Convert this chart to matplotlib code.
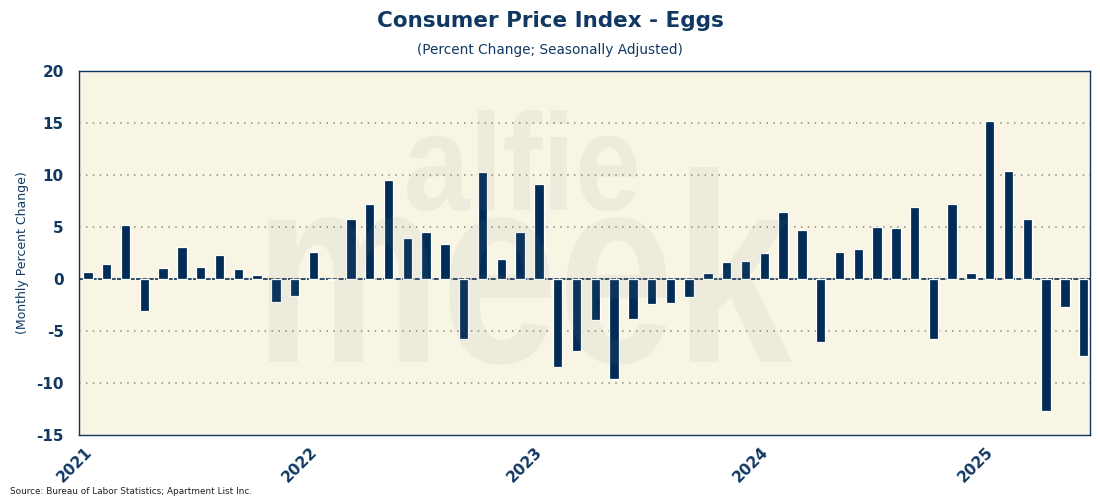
import pandas as pd
import matplotlib.pyplot as plt
from matplotlib.textpath import TextPath
from matplotlib.patches import PathPatch
from matplotlib.font_manager import FontProperties
from matplotlib.transforms import Affine2D, ScaledTranslation

# Monthly CPI for eggs, % change, Jan 2021 - Jun 2025
months = pd.date_range('2021-01-01', '2025-06-01', freq='MS')
pct_change = [
    0.7, 1.4, 5.2, -3.1, 1.1, 3.1, 1.2, 2.3, 1.0, 0.4, -2.2, -1.6,   # 2021
    2.6, -0.1, 5.8, 7.2, 9.5, 3.9, 4.5, 3.4, -5.8, 10.3, 1.9, 4.5,   # 2022
    9.1, -8.5, -6.9, -3.9, -9.6, -3.8, -2.4, -2.3, -1.7, 0.6, 1.6, 1.7,  # 2023
    2.5, 6.4, 4.7, -6.1, 2.6, 2.9, 5.0, 4.9, 6.9, -5.8, 7.2, 0.6,  # 2024
    15.2, 10.4, 5.8, -12.7, -2.7, -7.4,  # 2025
]
year_labels = ['2021', '2022', '2023', '2024', '2025']
y_ticks = [-15, -10, -5, 0, 5, 10, 15, 20]

navy = '#0B2F57'
text_navy = '#113862'
bg = '#F8F5E4'
W, H = 1100, 500

fig = plt.figure(figsize=(11, 5), dpi=100)
ax = fig.add_axes([0.0718, 0.13, 0.919, 0.728])
ax.set_facecolor(bg)

x = list(range(len(months)))

# dotted grid, dashed zero line
for y in [-10, -5, 5, 10, 15]:
    ax.axhline(y, color='#8C8A7C', lw=1.1, ls=(0, (1, 3.5)), zorder=1)
ax.axhline(0, color=navy, lw=1.2, ls=(0, (3, 0.8)), zorder=2)

ax.bar(x, pct_change, width=0.5, color='#002C56', edgecolor='white',
       linewidth=0.9, zorder=3)


# watermark, squeezed to fit a box given in pixels (left, top, right, baseline)
def watermark(word, left, top, right, base):
    tp = TextPath((0, 0), word, size=1,
                  prop=FontProperties(family='Liberation Sans', weight='bold'))
    ext = tp.get_extents()
    sx = (right - left) / ext.width
    sy = (base - top) / (ext.y1 - 0)
    tr = (Affine2D().translate(-ext.x0, 0).scale(sx, sy)
          .translate(left, H - base).scale(1 / W, 1 / H) + fig.transFigure)
    fig.add_artist(PathPatch(tp, transform=tr, facecolor='#878787',
                             edgecolor='none', alpha=0.09, zorder=5))


watermark('alfie', 407, 110, 637, 210)
watermark('meek', 268, 167, 792, 362)

ax.set_xlim(-0.48, len(months) - 0.67)
ax.set_ylim(-15, 20)
ax.set_yticks(y_ticks)
ax.set_yticklabels([str(v) for v in y_ticks], fontsize=11, fontweight='bold',
                   color=text_navy)
ax.set_xticks([12 * i - 0.48 for i in range(len(year_labels))])
ax.set_xticklabels(year_labels, fontsize=11, fontweight='bold', color=text_navy,
                   rotation=45, ha='right', va='top', rotation_mode='anchor')
ax.tick_params(axis='y', length=0, pad=11)
ax.tick_params(axis='x', length=0, pad=8)
shift = ScaledTranslation(0.05, 0.02, fig.dpi_scale_trans)
for lbl in ax.get_xticklabels():
    lbl.set_transform(lbl.get_transform() + shift)

for s in ax.spines.values():
    s.set_color('#0F3560')
    s.set_linewidth(1.0)

ax.set_ylabel('(Monthly Percent Change)', fontsize=9, color=text_navy, labelpad=5)

fig.text(0.5, 0.958, 'Consumer Price Index - Eggs', ha='center', va='center',
         fontsize=15.5, fontweight='bold', color=text_navy)
fig.text(0.5, 0.900, '(Percent Change; Seasonally Adjusted)', ha='center',
         va='center', fontsize=9.8, color=text_navy)
fig.text(0.009, 0.017, 'Source: Bureau of Labor Statistics; Apartment List Inc.',
         ha='left', va='center', fontsize=6.4, color='#222222')

fig.savefig('out.png', dpi=100)
